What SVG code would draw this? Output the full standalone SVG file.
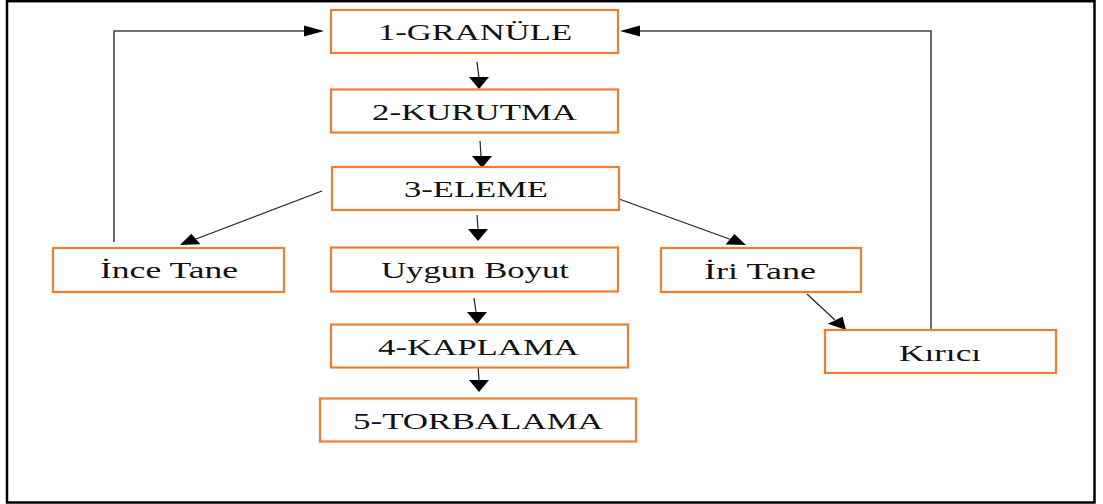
<svg xmlns="http://www.w3.org/2000/svg" xmlns:xlink="http://www.w3.org/1999/xlink" width="1103" height="504" viewBox="0 0 1103 504">
  <style>
    .box { fill: #ffffff; stroke: #ED7D31; stroke-width: 2.2; }
    .lbl { font-family: "Liberation Serif", "Times New Roman", serif; font-size: 22.5px; fill: #111111; text-anchor: start; }
    .wire { fill: none; stroke: #222222; stroke-width: 1.2; }
    .loop { fill: none; stroke: #444444; stroke-width: 1.6; }
    .head { fill: #000000; stroke: none; }
  </style>
  <defs>
    <polygon id="head-down" points="-10,-12 10,-12 0,0"/>
    <polygon id="head-right" points="-20,-5.5 -20,5.5 0,0"/>
    <polygon id="head-left" points="20,-5.5 20,5.5 0,0"/>
  </defs>

  <rect width="1103" height="504" fill="#ffffff"/>
  <!-- outer frame -->
  <rect x="7" y="1.2" width="1087.5" height="501.3" fill="none" stroke="#000000" stroke-width="2.5"/>

  <g id="connectors">
    <!-- feedback loops back to granulation -->
    <polyline class="loop" points="114,242 114,31 304,31"/>
    <use href="#head-right" class="head" x="324" y="31"/>
    <polyline class="loop" points="931,330 931,31 639,31"/>
    <use href="#head-left" class="head" x="620" y="31"/>

    <!-- main line -->
    <line class="wire" x1="477" y1="62" x2="479" y2="78"/>
    <use href="#head-down" class="head" x="479" y="89"/>
    <line class="wire" x1="480" y1="141" x2="481" y2="156"/>
    <use href="#head-down" class="head" x="482" y="168"/>
    <line class="wire" x1="477" y1="215" x2="478" y2="229"/>
    <use href="#head-down" class="head" x="478" y="241"/>
    <line class="wire" x1="474" y1="298" x2="476" y2="312"/>
    <use href="#head-down" class="head" x="477" y="324"/>
    <line class="wire" x1="478" y1="365" x2="479" y2="381"/>
    <use href="#head-down" class="head" x="479" y="392"/>

    <!-- sieve outputs -->
    <line class="wire" x1="322" y1="191" x2="196" y2="239"/>
    <polygon class="head" points="180,245 200.4,244.2 191.3,233.8"/>
    <line class="wire" x1="619" y1="199" x2="730" y2="239.3"/>
    <polygon class="head" points="746,245 725.6,244.6 734.4,234"/>
    <line class="wire" x1="807" y1="294" x2="835" y2="320"/>
    <polygon class="head" points="846,330 827.8,323.8 842.6,316.8"/>
  </g>

  <g id="n1-granule">
    <rect class="box" x="331" y="10" width="287" height="43"/>
    <text class="lbl" x="378" y="40" textLength="194" lengthAdjust="spacingAndGlyphs">1-GRANÜLE</text>
  </g>
  <g id="n2-kurutma">
    <rect class="box" x="331" y="89.5" width="287" height="43"/>
    <text class="lbl" x="372" y="119.5" textLength="205" lengthAdjust="spacingAndGlyphs">2-KURUTMA</text>
  </g>
  <g id="n3-eleme">
    <rect class="box" x="332" y="167" width="287" height="43"/>
    <text class="lbl" x="404" y="196.5" textLength="144" lengthAdjust="spacingAndGlyphs">3-ELEME</text>
  </g>
  <g id="ince-tane">
    <rect class="box" x="53" y="248" width="231" height="44"/>
    <text class="lbl" x="100" y="278" textLength="138" lengthAdjust="spacingAndGlyphs">İnce Tane</text>
  </g>
  <g id="uygun-boyut">
    <rect class="box" x="331" y="247.5" width="287" height="44"/>
    <text class="lbl" x="381" y="277.5" textLength="188" lengthAdjust="spacingAndGlyphs">Uygun Boyut</text>
  </g>
  <g id="iri-tane">
    <rect class="box" x="661" y="248" width="200" height="44"/>
    <text class="lbl" x="704" y="279" textLength="112" lengthAdjust="spacingAndGlyphs">İri Tane</text>
  </g>
  <g id="kirici">
    <rect class="box" x="825" y="330" width="231" height="43"/>
    <text class="lbl" x="899" y="361" textLength="82" lengthAdjust="spacingAndGlyphs">Kırıcı</text>
  </g>
  <g id="n4-kaplama">
    <rect class="box" x="331" y="324.5" width="297" height="43"/>
    <text class="lbl" x="378" y="355" textLength="201" lengthAdjust="spacingAndGlyphs">4-KAPLAMA</text>
  </g>
  <g id="n5-torbalama">
    <rect class="box" x="320" y="398.5" width="316" height="43"/>
    <text class="lbl" x="353" y="429" textLength="250" lengthAdjust="spacingAndGlyphs">5-TORBALAMA</text>
  </g>
</svg>
